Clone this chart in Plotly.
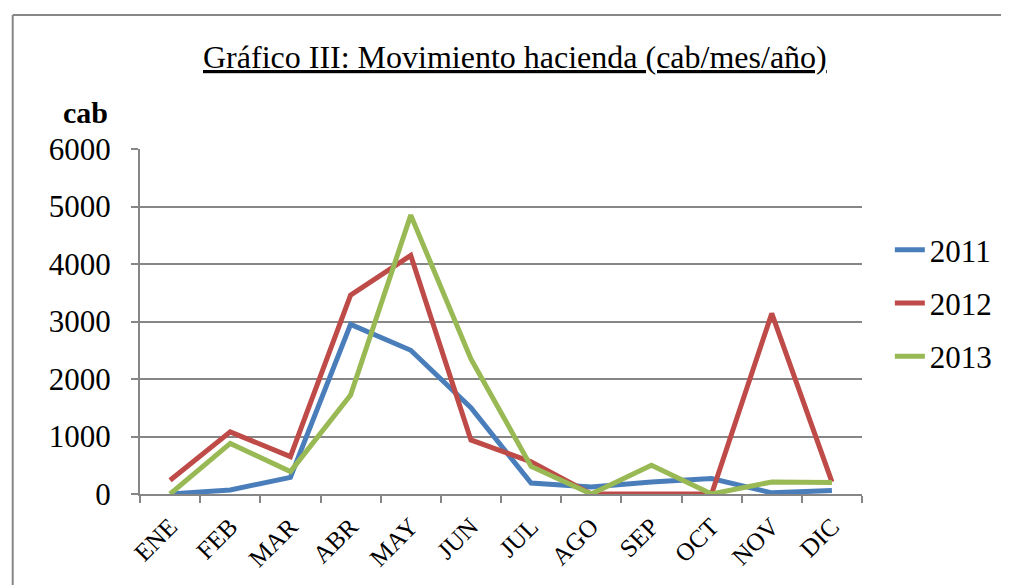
import plotly.graph_objects as go

months = ["ENE", "FEB", "MAR", "ABR", "MAY", "JUN", "JUL", "AGO", "SEP", "OCT", "NOV", "DIC"]
y2011 = [0, 70, 290, 2950, 2500, 1500, 190, 120, 210, 270, 20, 60]
y2012 = [240, 1080, 650, 3460, 4150, 940, 560, 0, 0, 0, 3140, 210]
y2013 = [0, 880, 390, 1720, 4850, 2350, 480, 0, 500, 0, 210, 200]
yticks = [0, 1000, 2000, 3000, 4000, 5000, 6000]

series = [("2011", y2011, "#4A7EBB"), ("2012", y2012, "#BE4B48"), ("2013", y2013, "#98B954")]

FONT = "Liberation Serif"
fig = go.Figure()
for name, vals, col in series:
    fig.add_trace(go.Scatter(x=months, y=vals, mode="lines", name=name, legendgroup=name,
                             line=dict(color=col, width=5)))

# page body has an 8px margin; coordinates below are reference pixels minus 8
OFF = 8
W, H = 1009 - OFF, 585 - OFF
L, T = 140 - OFF, 149 - OFF
R = W - (866 - OFF)
B = H - (494 - OFF)
pw, ph = W - L - R, H - T - B
def px(x): return (x - OFF - L) / pw
def py(y): return (H - B - (y - OFF)) / ph

fig.update_layout(
    width=W, height=H,
    margin=dict(l=L, r=R, t=T, b=B),
    paper_bgcolor="white", plot_bgcolor="white",
    font=dict(family=FONT, color="black", size=24),
    showlegend=True,
    legend=dict(x=px(894), xanchor="left", y=py(303), yanchor="middle",
                font=dict(size=31, family=FONT), tracegroupgap=10, bgcolor="rgba(0,0,0,0)"),
    xaxis=dict(type="category", showgrid=False, showline=True, linecolor="#868686", linewidth=2,
               ticks="outside", tickson="boundaries", ticklen=7, tickcolor="#868686", tickwidth=2,
               tickangle=-45, tickfont=dict(size=25, family=FONT), range=[-0.5, 11.5],
               ticklabelstandoff=6),
    yaxis=dict(range=[0, 6000], tickvals=yticks, showgrid=True, gridcolor="#868686", gridwidth=2,
               showline=True, linecolor="#868686", linewidth=2, ticks="outside", ticklen=7,
               tickcolor="#868686", tickwidth=2, tickfont=dict(size=31, family=FONT),
               zeroline=False, ticklabelstandoff=14),
    annotations=[
        dict(text="<u>Gráfico III: Movimiento hacienda (cab/mes/año)</u>", xref="paper", yref="paper",
             x=px(517), y=py(57), xanchor="center", yanchor="middle", showarrow=False,
             font=dict(size=32, family=FONT)),
        dict(text="<b>cab</b>", xref="paper", yref="paper", x=px(85), y=py(112),
             xanchor="center", yanchor="middle", showarrow=False, font=dict(size=30, family=FONT)),
    ],
    shapes=[
        dict(type="line", xref="paper", yref="paper", x0=px(12), x1=px(1015), y0=py(15), y1=py(15),
             line=dict(color="#878787", width=2)),
        dict(type="line", xref="paper", yref="paper", x0=px(12), x1=px(12), y0=py(15), y1=py(590),
             line=dict(color="#878787", width=2)),
    ],
)

fig.write_html("out.html")
